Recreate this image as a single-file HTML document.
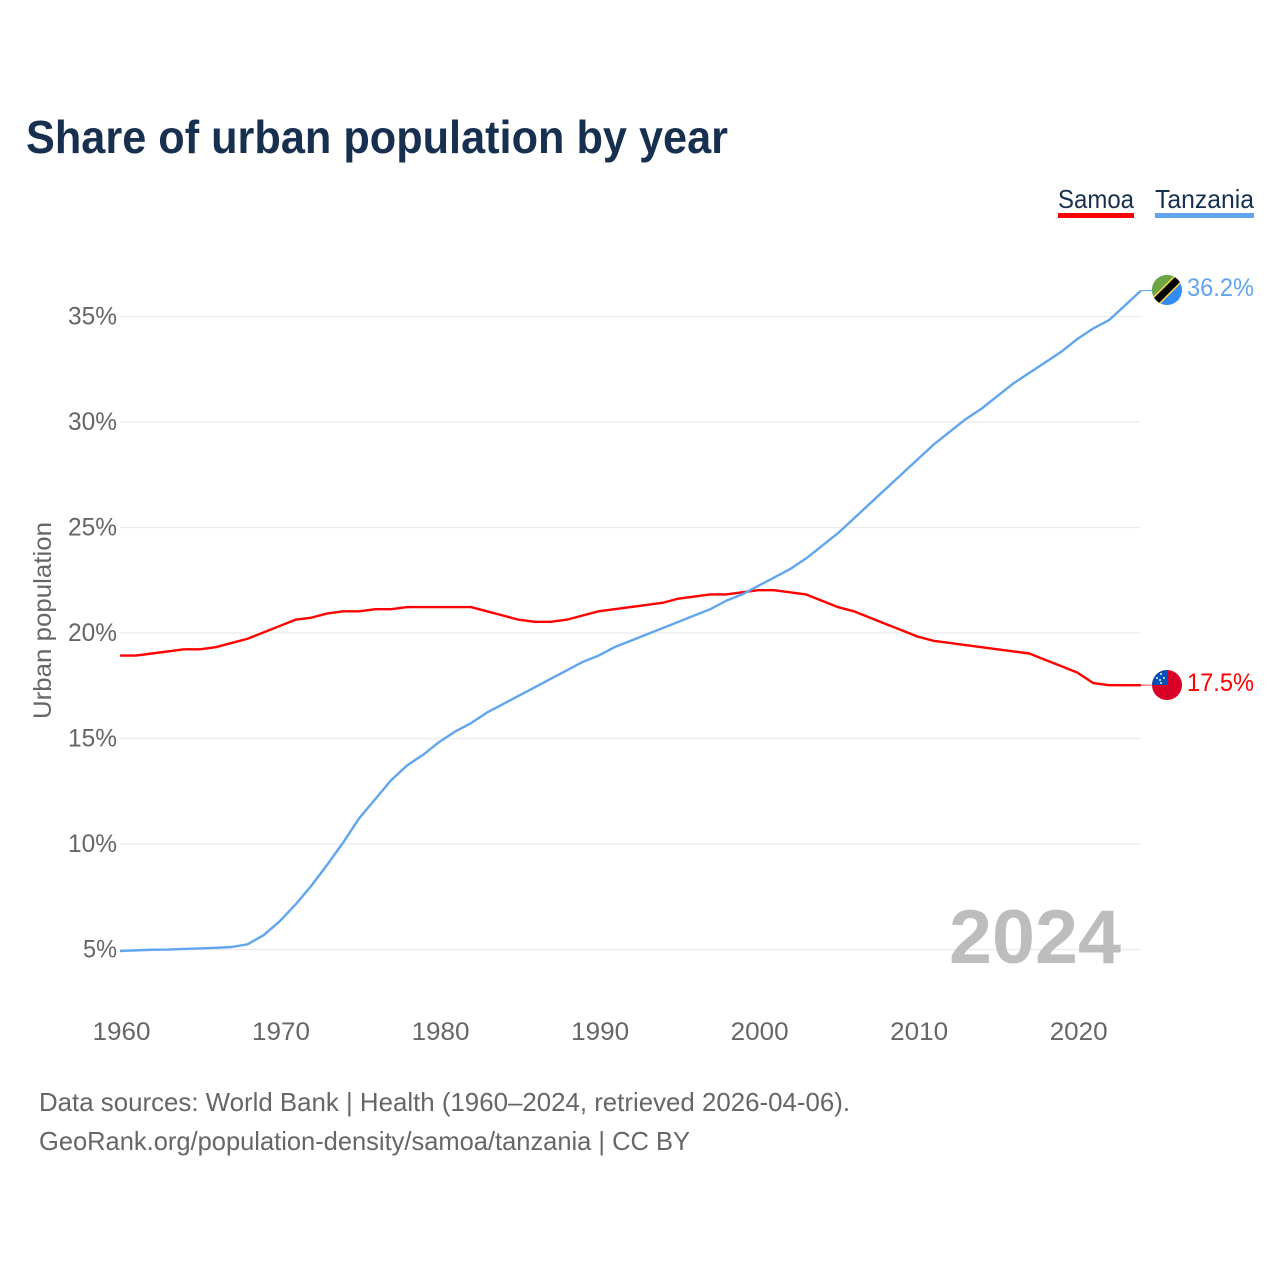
<!DOCTYPE html>
<html lang="en">
<head>
<meta charset="utf-8">
<title>Share of urban population by year</title>
<style>
html,body{margin:0;padding:0;background:#fff;}
svg{display:block;font-family:"Liberation Sans",sans-serif;}
</style>
</head>
<body>
<svg id="chart" xmlns="http://www.w3.org/2000/svg" width="1280" height="1280" viewBox="0 0 1280 1280">
  <rect width="1280" height="1280" fill="#ffffff"/>
  <text x="26" y="153" font-size="46" font-weight="700" fill="#18304f" textLength="702" lengthAdjust="spacingAndGlyphs">Share of urban population by year</text>

  <g>
    <text x="1058" y="208" font-size="26" fill="#18304f" textLength="76" lengthAdjust="spacingAndGlyphs">Samoa</text>
    <rect x="1058" y="213" width="76" height="5" fill="#ff0000"/>
  </g>
  <g>
    <text x="1155" y="208" font-size="26" fill="#18304f" textLength="99" lengthAdjust="spacingAndGlyphs">Tanzania</text>
    <rect x="1155" y="213" width="99" height="5" fill="#60a5ee"/>
  </g>

  <g id="grid"></g>
  <g id="y-ticks"></g>
  <g id="x-ticks"></g>

  <text transform="translate(51,620.5) rotate(-90)" text-anchor="middle" font-size="25" fill="#666666" textLength="197" lengthAdjust="spacingAndGlyphs">Urban population</text>

  <text x="949" y="963" font-size="76" font-weight="700" fill="#bdbdbd" textLength="172" lengthAdjust="spacingAndGlyphs">2024</text>

  <g id="series"></g>

  <defs>
    <clipPath id="clip-tz"><circle cx="1167" cy="290" r="15"/></clipPath>
    <clipPath id="clip-ws"><circle cx="1167" cy="685" r="15"/></clipPath>
  </defs>

  <g clip-path="url(#clip-tz)">
    <rect x="1152" y="275" width="30" height="30" fill="#338af3"/>
    <polygon points="1152,275 1182,275 1152,305" fill="#6da544"/>
    <line x1="1150" y1="307" x2="1184" y2="273" stroke="#ffda44" stroke-width="10"/>
    <line x1="1150" y1="307" x2="1184" y2="273" stroke="#000000" stroke-width="7"/>
  </g>
  <g clip-path="url(#clip-ws)">
    <rect x="1152" y="670" width="30" height="30" fill="#d80027"/>
    <rect x="1152" y="670" width="15" height="15" fill="#0052b4"/>
    <circle cx="1161" cy="674" r="1" fill="#f0f0f0"/>
    <circle cx="1157" cy="678" r="1" fill="#f0f0f0"/>
    <circle cx="1164" cy="678" r="1" fill="#f0f0f0"/>
    <circle cx="1160" cy="680" r="1" fill="#f0f0f0"/>
    <circle cx="1161" cy="683" r="1" fill="#f0f0f0"/>
  </g>

  <text id="value-tanzania" x="1187" y="296" font-size="25" fill="#60a5ee" textLength="67" lengthAdjust="spacingAndGlyphs"></text>
  <text id="value-samoa" x="1187" y="691" font-size="25" fill="#ff0000" textLength="67" lengthAdjust="spacingAndGlyphs"></text>

  <text x="39" y="1111" font-size="26" fill="#666666" textLength="811" lengthAdjust="spacingAndGlyphs">Data sources: World Bank | Health (1960–2024, retrieved 2026-04-06).</text>
  <text x="39" y="1150" font-size="26" fill="#666666" textLength="651" lengthAdjust="spacingAndGlyphs">GeoRank.org/population-density/samoa/tanzania | CC BY</text>
</svg>

<script>
const startYear = 1960;
const endYear = 2024;
const yTickValues = [5, 10, 15, 20, 25, 30, 35];
const xTickValues = [1960, 1970, 1980, 1990, 2000, 2010, 2020];
const samoaValues = [18.9,18.9,19.0,19.1,19.2,19.2,19.3,19.5,19.7,20.0,20.3,20.6,20.7,20.9,21.0,21.0,21.1,21.1,21.2,21.2,21.2,21.2,21.2,21.0,20.8,20.6,20.5,20.5,20.6,20.8,21.0,21.1,21.2,21.3,21.4,21.6,21.7,21.8,21.8,21.9,22.0,22.0,21.9,21.8,21.5,21.2,21.0,20.7,20.4,20.1,19.8,19.6,19.5,19.4,19.3,19.2,19.1,19.0,18.7,18.4,18.1,17.6,17.5,17.5,17.5];
const tanzaniaValues = [4.9,4.93,4.96,4.97,5.0,5.02,5.05,5.09,5.22,5.65,6.3,7.1,8.0,9.0,10.05,11.2,12.1,13.0,13.7,14.2,14.8,15.3,15.7,16.2,16.6,17.0,17.4,17.8,18.2,18.6,18.9,19.3,19.6,19.9,20.2,20.5,20.8,21.1,21.5,21.8,22.2,22.6,23.0,23.5,24.1,24.7,25.4,26.1,26.8,27.5,28.2,28.9,29.5,30.1,30.6,31.2,31.8,32.3,32.8,33.3,33.9,34.4,34.8,35.5,36.2];

const SVG_NS = 'http://www.w3.org/2000/svg';
const plotLeft = 120;
const plotRight = 1141;
function xScale(year) {
  return plotLeft + (year - startYear) * (plotRight - plotLeft) / (endYear - startYear);
}
function yScale(value) {
  return 949.5 - (value - 5) * 21.1;
}
/* series marks sit a fraction of a pixel above the gridline baseline in the reference */
function lineY(value) {
  return yScale(value) - 0.6;
}
function make(tag, attrs) {
  const el = document.createElementNS(SVG_NS, tag);
  for (const k in attrs) el.setAttribute(k, attrs[k]);
  return el;
}

const grid = document.getElementById('grid');
const yTicks = document.getElementById('y-ticks');
yTickValues.forEach(function (v) {
  const line = make('line', {x1: plotLeft, x2: plotRight, y1: yScale(v), y2: yScale(v), stroke: '#ebebeb', 'stroke-width': 1.2});
  
  
  grid.appendChild(line);
  const label = make('text', {x: 117, y: yScale(v) + 8, 'text-anchor': 'end', 'font-size': 25, fill: '#666666', textLength: v >= 10 ? 49 : 34, lengthAdjust: 'spacingAndGlyphs'});
  
  
  label.textContent = v + '%';
  yTicks.appendChild(label);
});

const xTicks = document.getElementById('x-ticks');
xTickValues.forEach(function (year) {
  const label = make('text', {x: xScale(year) + 1.5, y: 1040, 'text-anchor': 'middle', 'font-size': 25, fill: '#666666', textLength: 58, lengthAdjust: 'spacingAndGlyphs'});
  
  
  label.textContent = year;
  xTicks.appendChild(label);
});

function linePoints(values) {
  return values.map(function (v, i) {
    return xScale(startYear + i).toFixed(2) + ',' + lineY(v).toFixed(2);
  }).join(' ');
}
const seriesGroup = document.getElementById('series');

const samoaLine = make('polyline', {points: linePoints(samoaValues), fill: 'none', stroke: '#ff0000', 'stroke-width': 2.4, 'stroke-linejoin': 'round'});


seriesGroup.appendChild(samoaLine);

const tanzaniaLine = make('polyline', {points: linePoints(tanzaniaValues), fill: 'none', stroke: '#60a5ee', 'stroke-width': 2.4, 'stroke-linejoin': 'round'});


seriesGroup.appendChild(tanzaniaLine);

const samoaLast = samoaValues[samoaValues.length - 1];
const tanzaniaLast = tanzaniaValues[tanzaniaValues.length - 1];

const samoaLeader = make('line', {x1: plotRight, x2: 1152, y1: lineY(samoaLast), y2: lineY(samoaLast), stroke: '#ff0000', 'stroke-width': 1, opacity: 0.7});


seriesGroup.appendChild(samoaLeader);

const tanzaniaLeader = make('line', {x1: plotRight, x2: 1152, y1: lineY(tanzaniaLast), y2: lineY(tanzaniaLast), stroke: '#60a5ee', 'stroke-width': 1});


seriesGroup.appendChild(tanzaniaLeader);

document.getElementById('value-samoa').textContent = samoaLast.toFixed(1) + '%';
document.getElementById('value-tanzania').textContent = tanzaniaLast.toFixed(1) + '%';
</script>
</body>
</html>
